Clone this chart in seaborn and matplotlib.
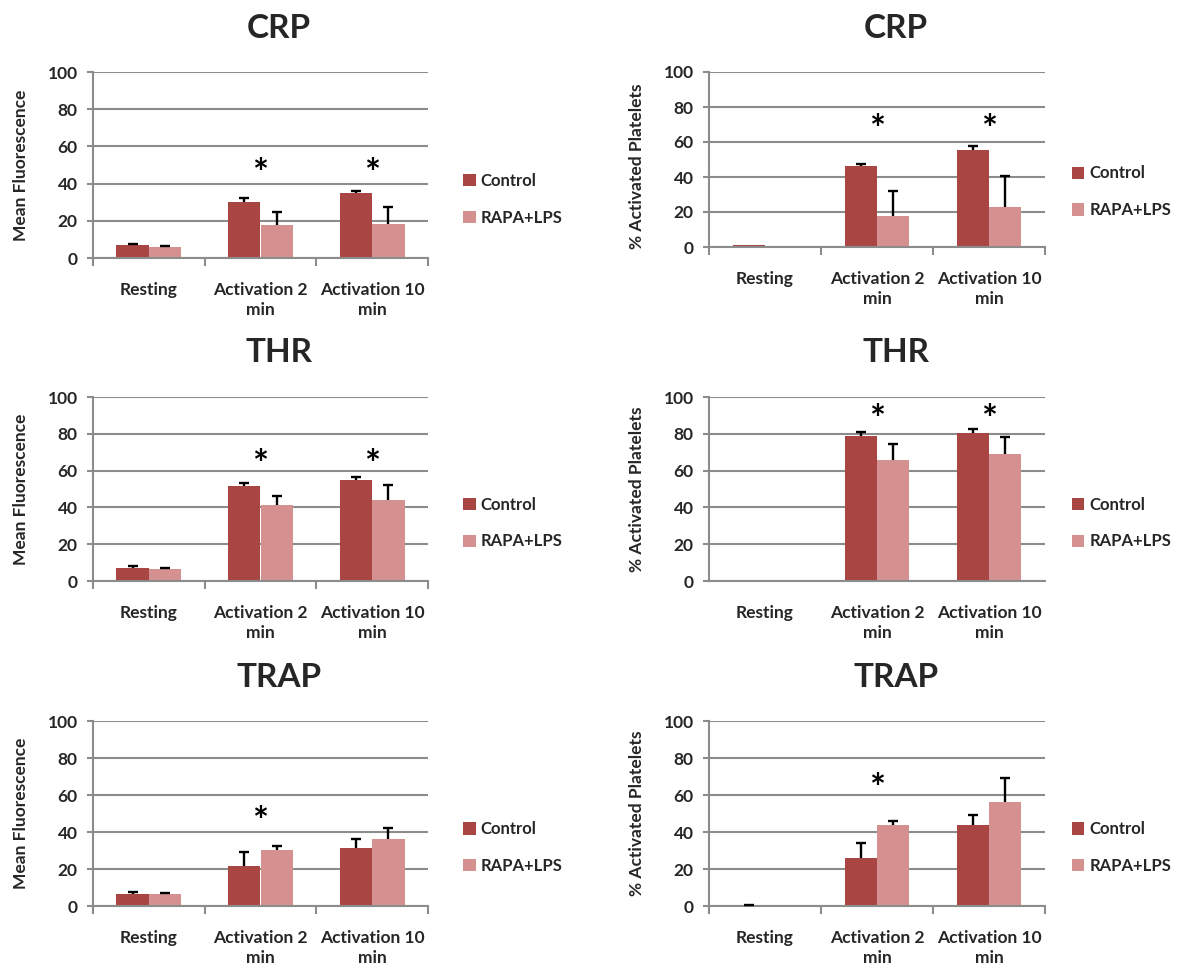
import matplotlib
matplotlib.use("Agg")
import matplotlib.pyplot as plt
import pandas as pd
import seaborn as sns

sns.set_style("white")
plt.rcParams["font.family"] = ["Lato", "DejaVu Sans"]
plt.rcParams["font.weight"] = "bold"

categories = ["Resting", "Activation 2\nmin", "Activation 10\nmin"]
groups = ["Control", "RAPA+LPS"]

# CRP
crp_mf_control = [7.2, 30.3, 34.7]
crp_mf_control_err = [0.5, 2.2, 1.4]
crp_mf_rapa = [6.1, 18.0, 18.5]
crp_mf_rapa_err = [0.4, 7.0, 8.8]

crp_pct_control = [1.0, 46.0, 55.3]
crp_pct_control_err = [0.0, 1.5, 2.3]
crp_pct_rapa = [0.8, 17.7, 22.7]
crp_pct_rapa_err = [0.0, 14.3, 17.9]

# THR
thr_mf_control = [7.3, 51.4, 54.9]
thr_mf_control_err = [0.6, 1.9, 1.6]
thr_mf_rapa = [6.6, 41.5, 44.0]
thr_mf_rapa_err = [0.5, 4.9, 8.0]

thr_pct_control = [0.0, 79.0, 80.3]
thr_pct_control_err = [0.0, 2.2, 2.3]
thr_pct_rapa = [0.0, 66.0, 69.0]
thr_pct_rapa_err = [0.0, 8.6, 9.3]

# TRAP
trap_mf_control = [6.7, 21.5, 31.4]
trap_mf_control_err = [0.9, 7.9, 4.7]
trap_mf_rapa = [6.3, 30.3, 36.1]
trap_mf_rapa_err = [0.7, 2.2, 5.8]

trap_pct_control = [0.3, 26.2, 44.0]
trap_pct_control_err = [0.5, 8.1, 5.3]
trap_pct_rapa = [0.0, 44.0, 56.0]
trap_pct_rapa_err = [0.0, 1.8, 13.0]

# significance markers: (category index, height)
crp_mf_stars = [(1, 50), (2, 50)]
crp_pct_stars = [(1, 72), (2, 72)]
thr_mf_stars = [(1, 68), (2, 68)]
thr_pct_stars = [(1, 92), (2, 92)]
trap_mf_stars = [(1, 50)]
trap_pct_stars = [(1, 68)]

yticks = [0, 20, 40, 60, 80, 100]

COL_CONTROL = "#A94644"
COL_RAPA = "#D49190"
GRID = "#8C8C8C"

W, H = 1178, 972
fig = plt.figure(figsize=(W / 100, H / 100), dpi=100)


def fig_axes(x0, x1, ytop, ybot):
    return fig.add_axes([x0 / W, 1 - ybot / H, (x1 - x0) / W, (ybot - ytop) / H])


def draw_panel(ax, control, control_err, rapa, rapa_err, title, title_xy,
               ylabel, stars, legend_x, ylabel_y=0.5, boundary_ticks=True):
    df = pd.DataFrame({
        "category": categories * 2,
        "group": [groups[0]] * len(categories) + [groups[1]] * len(categories),
        "value": control + rapa,
    })
    sns.barplot(data=df, x="category", y="value", hue="group",
                order=categories, hue_order=groups,
                palette=[COL_CONTROL, COL_RAPA], saturation=1,
                width=0.58, gap=0, errorbar=None, legend=False,
                linewidth=0, ax=ax)

    # upper-only error bars on each bar
    for container, errs in zip(ax.containers, [control_err, rapa_err]):
        for bar, e in zip(container, errs):
            if e > 0:
                x = bar.get_x() + bar.get_width() / 2
                _, caps, _ = ax.errorbar(x, bar.get_height(), yerr=[[0], [e]],
                                         fmt="none", ecolor="black",
                                         elinewidth=1.7, capsize=3.8,
                                         capthick=1.7, zorder=4)
                caps[0].set_visible(False)

    for ci, sy in stars:
        ax.annotate("*", (ci, sy), xytext=(0, -7), textcoords="offset points",
                    ha="center", va="center", fontsize=27,
                    fontweight="bold", color="black")

    ax.set_ylim(0, 100)
    ax.set_xlim(-0.5, len(categories) - 0.5)
    ax.set_yticks(yticks)
    ax.set_axisbelow(True)
    ax.yaxis.grid(True, color=GRID, linewidth=1.5)
    ax.xaxis.grid(False)
    for s in ("top", "right"):
        ax.spines[s].set_visible(False)
    for s in ("left", "bottom"):
        ax.spines[s].set_color(GRID)
        ax.spines[s].set_linewidth(1.5)

    ax.tick_params(axis="y", which="major", length=4, width=1.5, color=GRID,
                   direction="out", left=True, labelsize=12.5, pad=7)
    ax.tick_params(axis="x", which="major", length=0, labelsize=12.5, pad=17)
    if boundary_ticks:
        ax.set_xticks([i - 0.5 for i in range(len(categories) + 1)], minor=True)
        ax.tick_params(axis="x", which="minor", length=5.5, width=1.5,
                       color=GRID, direction="out", bottom=True)
    for t in ax.get_xticklabels():
        t.set_linespacing(1.35)
        t.set_fontweight("bold")
    for t in ax.get_yticklabels():
        t.set_fontweight("bold")

    ax.set_xlabel("")
    ax.set_ylabel(ylabel, fontsize=12.5, fontweight="bold")
    ax.yaxis.set_label_coords(-0.19, ylabel_y)

    leg = ax.legend(ax.containers, groups, loc="center left",
                    bbox_to_anchor=(legend_x, 0.315), frameon=False,
                    handlelength=0.75, handleheight=0.75, handletextpad=0.3,
                    labelspacing=1.25, fontsize=12)
    for t in leg.get_texts():
        t.set_fontweight("bold")

    fig.text(title_xy[0] / W, 1 - title_xy[1] / H, title, ha="center",
             va="center", fontsize=24, fontweight="bold")


LEFT_LEG = 1.06
RIGHT_LEG = 1.035

ax1 = fig_axes(93, 428, 72, 258)
draw_panel(ax1, crp_mf_control, crp_mf_control_err, crp_mf_rapa,
           crp_mf_rapa_err, "CRP", (279, 28), "Mean Fluorescence",
           crp_mf_stars, LEFT_LEG)

ax2 = fig_axes(709, 1045, 72, 247)
draw_panel(ax2, crp_pct_control, crp_pct_control_err, crp_pct_rapa,
           crp_pct_rapa_err, "CRP", (896, 28), "% Activated Platelets",
           crp_pct_stars, RIGHT_LEG, ylabel_y=0.46)

ax3 = fig_axes(93, 428, 397, 581)
draw_panel(ax3, thr_mf_control, thr_mf_control_err, thr_mf_rapa,
           thr_mf_rapa_err, "THR", (279, 352), "Mean Fluorescence",
           thr_mf_stars, LEFT_LEG)

ax4 = fig_axes(709, 1045, 397, 581)
draw_panel(ax4, thr_pct_control, thr_pct_control_err, thr_pct_rapa,
           thr_pct_rapa_err, "THR", (896, 352), "% Activated Platelets",
           thr_pct_stars, RIGHT_LEG, boundary_ticks=False)

ax5 = fig_axes(93, 428, 721, 906)
draw_panel(ax5, trap_mf_control, trap_mf_control_err, trap_mf_rapa,
           trap_mf_rapa_err, "TRAP", (279, 677), "Mean Fluorescence",
           trap_mf_stars, LEFT_LEG)

ax6 = fig_axes(709, 1045, 721, 906)
draw_panel(ax6, trap_pct_control, trap_pct_control_err, trap_pct_rapa,
           trap_pct_rapa_err, "TRAP", (896, 677), "% Activated Platelets",
           trap_pct_stars, RIGHT_LEG)

fig.savefig("out.png", dpi=100, facecolor="white")
